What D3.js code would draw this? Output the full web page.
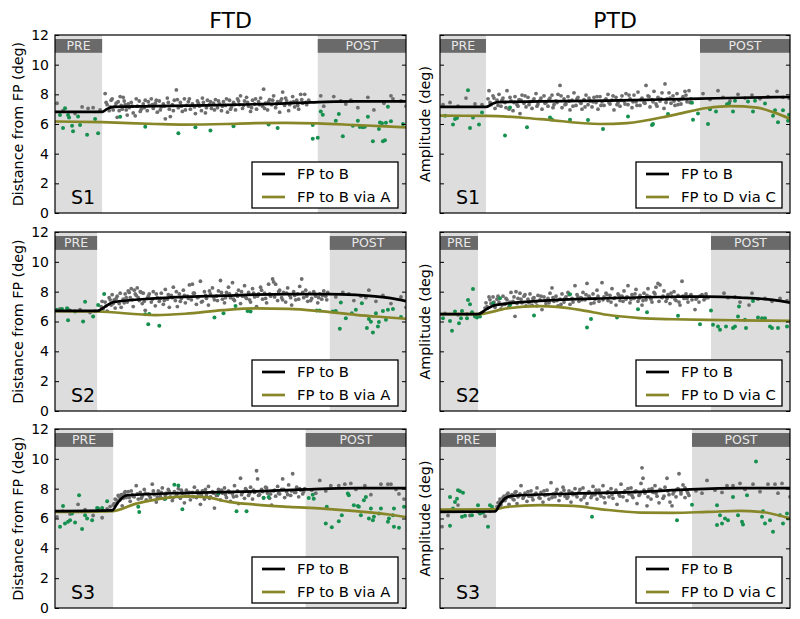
<!DOCTYPE html>
<html><head><meta charset="utf-8">
<script src="https://cdn.jsdelivr.net/npm/d3@7"></script>
<style>body{margin:0;background:#fff} svg{display:block} text{font-family:"DejaVu Sans",sans-serif}</style>
</head><body><svg id="c" width="800" height="619"></svg>
<script>
// ---------------- DATA ----------------
const columnTitles = ["FTD", "PTD"];
const rowLabels = ["S1", "S2", "S3"];
const yLabels = ["Distance from FP (deg)", "Amplitude (deg)"];
const yTicks = [0, 2, 4, 6, 8, 10, 12];
const ftdLegend = ["FP to B", "FP to B via A"];
const ptdLegend = ["FP to B", "FP to D via C"];
const phaseNames = ["PRE", "POST"];
const trialRange = [0, 350];
const ftdPreEnd = [47, 42, 58];
const ftdPostStart = [262, 274, 250];
const ptdPreEnd = [46, 38, 56];
const ptdPostStart = [260, 271, 252];

// fitted curves [trial, value]
const ftdS1Direct = [[0,6.82],[47,6.82],[52,7.02],[58,7.16],[100,7.2],[150,7.26],[200,7.33],[250,7.44],[262,7.48],[300,7.52],[350,7.53]];
const ftdS1Via = [[0,6.17],[47,6.12],[100,6.0],[130,5.96],[170,6.0],[200,6.06],[230,6.08],[262,6.04],[300,5.93],[330,5.84],[350,5.77]];
const ptdS1Direct = [[0,7.15],[46,7.15],[52,7.35],[58,7.48],[100,7.52],[167,7.57],[220,7.65],[260,7.71],[300,7.77],[350,7.82]];
const ptdS1Via = [[0,6.56],[47,6.55],[100,6.33],[160,6.0],[187,6.06],[233,6.6],[267,7.08],[290,7.2],[317,7.1],[333,6.8],[350,6.35]];
const ftdS2Direct = [[0,6.71],[42,6.71],[50,7.0],[58,7.3],[100,7.55],[167,7.73],[233,7.84],[273,7.84],[300,7.78],[333,7.58],[350,7.37]];
const ftdS2Via = [[0,6.7],[42,6.67],[100,6.43],[130,6.52],[167,6.76],[200,6.88],[233,6.85],[267,6.68],[300,6.45],[333,6.27],[350,6.18]];
const ptdS2Direct = [[0,6.49],[38,6.49],[47,6.85],[55,7.1],[100,7.38],[167,7.56],[233,7.66],[267,7.67],[300,7.6],[333,7.45],[350,7.27]];
const ptdS2Via = [[0,6.49],[38,6.49],[67,6.88],[100,7.03],[117,6.98],[140,6.78],[167,6.45],[200,6.23],[233,6.15],[267,6.11],[300,6.08],[350,6.04]];
const ftdS3Direct = [[0,6.5],[57,6.55],[63,7.1],[68,7.45],[72,7.56],[133,7.72],[200,7.82],[250,7.95],[300,8.03],[350,8.03]];
const ftdS3Via = [[0,6.44],[58,6.5],[80,6.98],[100,7.27],[133,7.48],[150,7.43],[173,7.12],[200,6.93],[233,6.78],[267,6.66],[300,6.49],[333,6.27],[350,6.1]];
const ptdS3Direct = [[0,6.44],[55,6.47],[60,6.95],[65,7.35],[72,7.52],[133,7.67],[200,7.78],[250,7.95],[300,8.03],[350,8.03]];
const ptdS3Via = [[0,6.6],[55,6.62],[67,6.78],[100,6.89],[133,6.84],[160,6.63],[200,6.4],[233,6.38],[267,6.44],[300,6.51],[320,6.45],[350,6.0]];

// single trials: "via" trials (green)
const ftdS1Green = [[5,6.6],[8,5.73],[10,7.07],[13,6.6],[14,6.44],[17,5.89],[18,5.51],[23,6.51],[25,5.93],[32,5.27],[40,6.33],[43,5.38],[65,6.49],[90,5.82],[123,5.38],[140,5.78],[155,5.56],[178,5.84],[213,5.96],[222,5.73],[257,5.93],[257,5.0],[262,5.07],[265,6.84],[267,6.62],[280,6.22],[283,6.67],[287,5.18],[297,5.89],[302,6.22],[304,5.8],[307,5.78],[309,5.82],[312,6.49],[317,4.84],[323,5.67],[324,6.1],[326,6.05],[327,4.84],[329,4.9],[330,6.09],[332,7.16],[335,6.18],[347,6.0]];
const ptdS1Green = [[5,6.56],[13,5.96],[15,6.33],[17,6.4],[28,8.27],[30,5.73],[33,6.44],[39,5.96],[42,6.78],[65,5.22],[70,7.11],[87,5.78],[110,6.44],[112,6.31],[130,6.29],[148,6.27],[163,5.67],[188,6.51],[212,5.93],[213,6.0],[228,6.67],[252,7.44],[253,6.29],[258,6.71],[268,6.0],[270,7.0],[276,6.84],[287,7.33],[289,7.4],[293,6.84],[295,7.56],[308,7.51],[313,6.84],[315,7.56],[325,7.38],[333,6.56],[335,6.93],[338,6.11],[343,6.93],[348,6.22],[349,6.62]];
const ftdS2Green = [[2,6.78],[7,6.84],[12,6.89],[13,6.78],[13,6.09],[20,6.67],[28,6.0],[30,7.33],[38,6.33],[43,7.11],[49,7.84],[90,6.49],[93,5.82],[94,6.51],[104,5.71],[159,6.27],[168,6.56],[180,7.04],[192,6.71],[195,6.67],[261,6.73],[264,6.73],[277,6.67],[280,6.71],[284,5.51],[285,7.27],[290,6.22],[296,6.56],[300,6.78],[306,7.22],[311,5.56],[313,6.16],[315,5.98],[317,5.27],[320,6.56],[322,5.67],[323,5.96],[327,6.71],[330,6.11],[332,6.78],[337,6.84],[345,6.3]];
const ptdS2Green = [[3,6.22],[10,6.04],[12,5.38],[15,6.67],[19,5.89],[21,6.22],[22,6.71],[27,6.22],[28,7.44],[30,7.16],[32,6.62],[33,8.18],[35,6.33],[37,6.27],[40,6.33],[53,7.22],[60,7.56],[70,7.11],[94,6.4],[130,7.82],[147,5.6],[151,6.16],[177,6.27],[198,6.82],[207,6.62],[238,6.38],[260,5.82],[271,6.73],[273,5.78],[278,5.67],[280,5.44],[286,5.67],[293,5.56],[295,5.67],[298,6.33],[299,7.0],[305,6.11],[306,5.56],[313,7.38],[318,6.27],[322,6.22],[325,6.22],[330,5.67],[332,5.56],[338,5.56],[347,5.67]];
const ftdS3Green = [[5,5.44],[8,6.84],[10,5.67],[13,5.78],[15,5.89],[17,6.33],[20,5.73],[24,7.56],[27,5.29],[30,6.22],[32,6.0],[37,5.89],[42,6.71],[43,6.67],[47,6.71],[52,7.16],[83,6.78],[84,6.44],[110,7.33],[119,8.27],[123,8.22],[127,6.62],[163,7.67],[181,6.49],[191,6.49],[208,7.38],[213,7.44],[253,7.38],[257,7.6],[258,7.33],[270,5.67],[271,6.78],[276,5.42],[283,5.82],[286,6.22],[292,7.67],[293,7.56],[298,6.89],[302,6.84],[303,6.78],[305,6.22],[308,7.22],[310,7.44],[313,6.0],[315,6.67],[317,5.89],[318,6.11],[323,6.33],[325,6.67],[332,5.78],[333,6.0],[337,6.22],[338,5.44],[338,6.67],[343,5.38],[348,6.78]];
const ptdS3Green = [[10,7.44],[10,5.51],[13,6.67],[15,7.11],[17,7.33],[18,7.89],[20,7.82],[22,6.11],[23,7.73],[25,6.18],[32,6.22],[38,6.89],[40,6.33],[43,6.38],[48,5.44],[50,6.89],[52,6.78],[152,6.11],[237,5.89],[252,6.93],[277,6.89],[277,5.56],[280,6.22],[282,5.67],[285,6.0],[288,5.89],[293,7.44],[298,6.22],[302,5.78],[303,5.6],[307,7.56],[316,9.82],[322,6.11],[323,6.49],[325,5.67],[330,5.89],[333,5.11],[340,6.22],[343,5.67],[347,6.33],[348,6.0]];

// single trials: direct trials (gray)
const ftdS1Gray = [[2,7.4],[8,6.9],[20,6.7],[27,7.15],[33,7.05],[38,7.1],[45,6.95],[50,8.05],[52,7.3],[54,6.9],[56,7.6],[58,6.95],[60,7.2],[62,6.45],[63,7.5],[65,7.85],[67,7.0],[68,7.8],[70,7.3],[72,6.6],[74,7.1],[76,7.45],[78,6.75],[80,6.55],[82,7.2],[84,7.55],[86,7.0],[88,7.35],[90,7.6],[92,6.9],[94,7.25],[96,7.7],[98,7.05],[100,7.4],[102,6.8],[104,7.55],[106,7.15],[108,7.35],[110,6.35],[112,7.75],[114,7.0],[115,6.5],[117,7.3],[119,7.6],[121,8.3],[123,7.1],[125,7.45],[127,6.85],[129,7.7],[131,7.25],[133,7.5],[135,7.0],[137,7.35],[140,6.7],[142,7.55],[144,7.2],[146,6.9],[148,7.45],[150,6.75],[152,7.6],[154,7.3],[156,7.05],[158,7.4],[160,7.65],[162,7.1],[164,7.35],[166,6.9],[168,7.5],[170,7.25],[172,6.8],[174,7.6],[176,7.15],[178,7.45],[180,6.95],[182,7.7],[184,7.3],[185,7.9],[187,7.05],[189,7.55],[191,7.8],[193,7.2],[195,6.85],[197,7.6],[199,7.35],[201,7.0],[203,7.5],[205,7.75],[207,7.2],[208,8.35],[210,7.4],[212,6.95],[214,7.65],[216,7.3],[218,7.9],[220,7.1],[222,7.5],[224,6.8],[226,7.7],[227,8.15],[229,7.25],[231,7.55],[233,6.9],[235,7.45],[237,7.85],[239,7.15],[241,7.6],[243,7.0],[245,8.0],[247,7.4],[249,8.0],[251,7.3],[253,7.6],[265,7.9],[268,7.2],[278,7.85],[285,7.55],[290,7.35],[295,7.6],[302,7.1],[312,7.8],[318,6.95],[328,7.4],[335,7.9],[337,7.7],[345,7.55],[350,7.2]];
const ftdS1GrayB = [[51,7.45],[55,7.15],[57,7.7],[61,7.4],[64,6.9],[66,7.25],[69,7.55],[71,6.95],[73,7.35],[77,7.2],[81,7.7],[85,6.85],[89,7.1],[93,7.5],[97,7.3],[101,7.6],[105,6.95],[109,7.2],[113,7.45],[118,6.9],[122,7.65],[126,7.2],[130,6.95],[134,7.7],[139,7.15],[143,7.4],[147,7.75],[151,7.1],[155,7.5],[159,6.95],[163,7.55],[167,7.2],[171,7.7],[175,7.0],[179,7.3],[183,7.55],[188,7.25],[192,7.45],[196,7.1],[200,7.7],[204,7.3],[209,7.05],[213,7.5],[217,7.6],[221,7.35],[225,7.55],[230,7.75],[234,7.3],[238,7.5],[242,7.25],[246,7.65],[250,7.45]];
const ptdS1Gray = [[3,7.3],[10,7.45],[18,7.2],[26,7.75],[35,7.35],[42,7.3],[48,7.7],[49,8.25],[51,7.3],[53,7.9],[55,7.05],[57,7.6],[59,8.0],[61,7.2],[63,7.75],[65,7.45],[67,8.25],[69,7.0],[71,7.55],[73,6.9],[75,7.85],[77,7.3],[79,7.65],[80,6.7],[82,7.95],[84,7.4],[86,7.15],[88,7.8],[90,7.5],[92,7.05],[94,7.7],[96,8.05],[98,7.35],[100,7.6],[102,7.0],[104,7.9],[106,7.45],[108,7.2],[110,7.75],[112,7.95],[114,7.3],[116,7.55],[118,8.0],[120,8.6],[122,7.1],[124,7.7],[126,7.35],[128,7.85],[130,6.95],[132,7.6],[134,8.1],[136,7.25],[138,7.8],[140,7.5],[142,7.0],[144,7.65],[146,7.95],[148,7.3],[150,7.55],[152,7.15],[154,7.8],[156,7.45],[158,7.0],[160,7.85],[162,7.5],[164,7.25],[166,7.7],[168,8.0],[170,7.35],[172,7.6],[174,6.95],[176,7.8],[178,7.45],[180,7.2],[182,7.9],[184,7.55],[186,8.05],[188,7.3],[190,7.7],[192,7.1],[194,7.95],[196,7.5],[198,8.15],[200,7.25],[202,7.75],[204,7.45],[206,8.6],[208,7.9],[210,7.15],[212,7.65],[214,8.2],[216,7.35],[218,7.8],[220,7.55],[222,8.1],[224,7.05],[225,8.7],[227,7.7],[229,8.1],[231,7.4],[233,7.9],[235,7.25],[237,8.05],[239,7.6],[241,7.35],[243,7.85],[245,8.2],[247,7.5],[249,8.25],[251,7.7],[263,8.05],[270,7.65],[278,8.25],[283,7.8],[290,7.55],[298,8.0],[305,7.75],[312,7.95],[320,7.7],[328,7.85],[337,8.2],[343,7.8],[349,7.75]];
const ptdS1GrayB = [[50,7.45],[54,7.75],[58,7.25],[62,7.6],[66,7.1],[70,7.8],[74,7.45],[78,7.2],[81,7.6],[85,7.9],[89,7.3],[93,7.55],[97,7.2],[101,7.75],[105,7.4],[109,7.65],[113,7.1],[117,7.45],[121,7.9],[125,7.3],[129,7.55],[133,7.2],[137,7.7],[141,7.4],[145,7.15],[149,7.75],[153,7.5],[157,7.85],[161,7.25],[165,7.6],[169,7.45],[173,7.9],[177,7.3],[181,7.6],[185,7.35],[189,7.95],[193,7.5],[197,7.25],[201,7.65],[205,7.4],[209,7.85],[213,7.5],[217,7.2],[221,7.7],[226,7.45],[230,7.75],[234,7.55],[238,7.3],[242,7.7],[246,7.95],[250,7.45]];
const ftdS2Gray = [[5,6.85],[15,6.75],[25,6.8],[35,6.6],[40,6.7],[46,7.0],[48,6.85],[50,7.3],[52,6.7],[54,7.6],[56,7.1],[57,7.8],[59,7.45],[60,6.9],[62,7.7],[64,7.2],[66,6.95],[68,7.5],[70,7.85],[72,7.3],[73,8.05],[75,7.6],[76,8.2],[78,7.0],[79,8.1],[81,7.75],[82,8.25],[84,7.4],[85,8.0],[87,7.2],[88,7.9],[90,6.75],[92,7.55],[94,7.85],[96,7.3],[98,8.0],[100,7.05],[102,7.6],[104,7.35],[106,7.9],[108,7.15],[110,8.15],[112,7.5],[114,6.95],[116,7.75],[118,8.3],[120,7.4],[122,7.0],[124,7.85],[126,7.55],[128,8.1],[130,7.25],[132,7.7],[134,8.45],[136,7.45],[137,8.5],[139,7.9],[141,7.15],[143,7.65],[145,8.7],[147,7.35],[149,8.0],[151,7.55],[153,7.1],[155,7.85],[157,8.25],[159,7.45],[161,7.7],[163,8.05],[165,8.75],[167,7.5],[169,7.25],[171,7.95],[173,8.3],[175,7.6],[177,8.6],[179,7.4],[181,7.85],[183,8.1],[185,7.2],[187,7.7],[189,8.4],[191,7.55],[193,7.95],[195,7.3],[197,8.2],[199,7.65],[201,7.0],[203,7.85],[205,8.3],[207,7.5],[209,7.9],[211,7.25],[213,8.5],[215,7.7],[217,8.85],[218,8.65],[220,8.5],[222,7.4],[224,8.1],[226,7.6],[228,7.95],[230,7.3],[232,8.25],[234,7.75],[236,7.1],[238,8.0],[240,7.45],[242,7.85],[244,8.35],[246,8.85],[248,7.6],[250,8.1],[252,7.35],[254,7.9],[256,7.55],[258,8.0],[260,7.7],[262,7.25],[264,7.85],[266,7.5],[268,8.05],[270,7.7],[272,7.95],[280,7.65],[287,7.95],[293,7.85],[298,7.4],[305,7.7],[310,7.6],[313,8.1],[320,7.35],[327,7.75],[335,7.2],[345,7.65],[350,6.95]];
const ftdS2GrayB = [[47,7.35],[51,7.05],[55,7.45],[58,7.2],[61,7.55],[65,7.9],[69,7.25],[71,7.6],[74,7.95],[77,7.45],[80,7.85],[83,7.6],[86,7.95],[89,7.35],[93,7.7],[97,7.5],[101,7.85],[105,7.55],[109,7.4],[113,7.8],[117,7.6],[121,8.0],[125,7.35],[129,7.75],[133,7.55],[138,7.9],[142,7.6],[146,7.3],[150,7.75],[154,8.05],[158,7.65],[162,7.4],[166,7.95],[170,7.6],[174,7.85],[178,7.5],[182,7.7],[186,8.0],[190,7.65],[194,7.45],[198,7.9],[202,7.7],[206,8.1],[210,7.55],[214,7.85],[219,7.65],[223,8.0],[227,7.45],[231,7.9],[235,7.6],[239,7.75],[243,7.5],[247,7.95],[251,7.7],[255,7.4],[259,7.85],[263,7.6],[267,7.75],[271,7.45]];
const ptdS2Gray = [[5,6.55],[18,6.45],[27,6.5],[35,6.4],[42,6.6],[45,6.9],[47,7.0],[49,7.65],[51,7.2],[53,7.65],[55,6.95],[57,7.5],[59,7.3],[61,6.85],[63,7.7],[65,7.15],[67,7.45],[69,7.0],[71,7.95],[73,7.35],[75,6.35],[76,8.0],[78,7.55],[80,7.9],[82,7.25],[84,7.7],[86,7.05],[88,7.5],[90,7.85],[92,7.1],[94,7.6],[96,7.3],[98,7.75],[100,7.45],[102,6.8],[104,7.65],[106,7.2],[108,7.55],[110,7.9],[112,8.25],[114,7.35],[116,7.7],[118,7.05],[120,7.5],[122,7.85],[124,7.3],[126,7.65],[128,7.95],[130,7.15],[132,7.55],[135,8.4],[137,7.8],[139,7.35],[141,7.6],[143,7.95],[145,7.45],[147,8.55],[149,7.7],[151,7.2],[153,7.85],[155,7.5],[157,8.1],[159,7.35],[162,8.6],[164,7.65],[166,7.9],[168,7.4],[170,7.75],[172,8.2],[174,7.55],[176,7.1],[178,7.85],[180,7.4],[182,7.7],[184,8.05],[186,7.5],[188,8.4],[190,7.25],[192,7.8],[194,7.55],[196,8.15],[198,7.35],[200,7.75],[202,7.1],[204,7.9],[206,7.45],[208,8.2],[210,7.65],[212,7.3],[214,7.95],[216,8.3],[218,8.55],[220,8.45],[222,7.6],[224,8.05],[226,7.35],[228,7.8],[230,7.2],[232,7.65],[234,8.0],[236,7.4],[238,7.75],[240,7.1],[242,8.7],[244,7.55],[246,7.85],[248,7.3],[250,7.7],[252,7.45],[255,6.8],[257,7.6],[259,7.3],[262,7.8],[264,7.45],[266,7.85],[268,7.6],[284,7.9],[288,7.6],[295,7.65],[300,7.3],[309,7.1],[312,7.9],[318,7.5],[325,7.55],[332,7.35],[340,7.55],[347,7.4]];
const ptdS2GrayB = [[46,7.25],[50,7.45],[54,7.3],[58,7.7],[62,7.1],[66,7.55],[70,7.3],[74,7.65],[77,7.2],[81,7.5],[85,7.8],[89,7.25],[93,7.55],[97,7.05],[101,7.7],[105,7.4],[109,7.25],[113,7.6],[117,7.4],[121,7.15],[125,7.55],[129,7.8],[133,7.3],[138,7.65],[142,7.45],[146,7.8],[150,7.55],[154,7.25],[158,7.7],[163,7.45],[167,7.8],[171,7.3],[175,7.6],[179,7.75],[183,7.35],[187,7.65],[191,7.5],[195,7.85],[199,7.55],[203,7.4],[207,7.75],[211,7.5],[215,7.85],[219,7.35],[223,7.7],[227,7.55],[231,7.9],[235,7.5],[239,7.3],[243,7.7],[247,7.55],[251,7.8],[256,7.5],[260,7.7],[265,7.55]];
const ftdS3Gray = [[2,6.1],[8,6.5],[15,6.3],[23,6.95],[30,6.6],[38,6.2],[47,6.05],[52,6.65],[55,6.8],[58,6.9],[60,7.3],[62,7.05],[63,7.55],[65,7.25],[67,6.85],[69,7.7],[71,7.4],[73,7.8],[75,7.15],[77,7.6],[79,7.45],[81,8.2],[83,7.3],[85,7.75],[87,7.5],[89,7.95],[91,7.25],[93,7.65],[95,7.4],[97,8.3],[99,7.6],[101,7.1],[103,7.85],[105,7.5],[107,8.05],[109,7.3],[111,7.7],[113,7.95],[115,7.45],[117,7.2],[119,7.8],[121,7.55],[123,8.0],[125,7.35],[127,7.7],[129,7.05],[131,7.9],[133,7.5],[135,7.25],[137,7.75],[139,8.1],[141,7.4],[143,7.65],[145,6.95],[147,7.85],[149,7.3],[151,7.6],[153,8.15],[155,7.45],[157,7.8],[159,6.7],[161,7.55],[163,7.95],[165,7.25],[167,7.7],[169,8.05],[171,7.4],[173,7.85],[175,7.15],[177,7.65],[179,8.2],[181,7.5],[183,7.0],[185,8.7],[187,7.75],[189,7.35],[191,7.9],[193,7.55],[195,8.1],[197,7.3],[199,7.75],[201,9.2],[202,8.65],[204,7.6],[206,7.95],[208,7.4],[210,8.1],[212,7.7],[214,7.35],[216,6.9],[218,7.85],[220,7.5],[222,8.15],[224,7.65],[226,7.95],[227,8.65],[229,7.4],[231,7.8],[233,8.25],[235,7.55],[237,9.0],[239,7.75],[241,8.1],[243,7.45],[245,7.9],[247,7.65],[249,8.0],[256,7.9],[260,7.7],[264,8.55],[270,7.85],[275,8.2],[283,8.2],[289,8.3],[295,8.35],[300,7.95],[309,8.2],[315,7.6],[325,8.3],[332,8.3],[335,8.3],[340,7.95],[343,7.65],[348,7.3]];
const ftdS3GrayB = [[59,7.0],[61,7.25],[64,7.45],[66,7.6],[68,7.35],[70,7.8],[72,7.55],[74,7.4],[76,7.85],[78,7.5],[82,7.65],[86,7.35],[90,7.7],[94,7.55],[98,7.85],[102,7.45],[106,7.75],[110,7.55],[114,7.8],[118,7.4],[122,7.7],[126,7.9],[130,7.5],[134,7.75],[138,7.45],[142,7.85],[146,7.6],[150,7.95],[154,7.35],[158,7.7],[162,7.55],[166,7.9],[170,7.6],[174,7.75],[178,7.45],[182,7.85],[186,7.6],[190,8.0],[194,7.7],[198,7.9],[203,7.55],[207,7.8],[211,8.05],[215,7.65],[219,7.9],[223,7.7],[228,7.95],[232,7.6],[236,7.85],[240,7.75],[244,8.0],[248,7.8]];
const ptdS3Gray = [[2,5.45],[8,6.2],[18,6.9],[22,6.5],[30,6.2],[38,6.45],[45,6.15],[50,6.5],[54,6.6],[57,6.8],[59,7.1],[61,6.9],[63,7.4],[65,7.2],[67,7.6],[69,6.95],[71,7.45],[73,7.3],[75,7.75],[77,7.0],[79,7.55],[81,8.2],[83,7.35],[85,7.7],[87,7.15],[89,7.5],[91,7.85],[93,7.25],[95,7.6],[97,8.05],[99,7.4],[101,7.75],[103,7.1],[105,7.55],[107,7.9],[109,7.3],[111,8.4],[113,7.65],[115,7.45],[117,7.95],[119,7.2],[121,7.7],[123,8.1],[125,7.5],[127,7.35],[129,7.85],[131,7.1],[133,7.6],[135,8.0],[137,7.45],[139,7.75],[141,7.25],[143,8.05],[145,7.55],[147,7.0],[149,7.8],[151,7.4],[153,8.15],[155,7.6],[157,7.3],[159,7.9],[161,7.5],[163,8.2],[165,7.05],[167,7.7],[169,7.45],[171,8.0],[173,7.35],[175,7.75],[177,6.95],[179,7.6],[181,8.3],[183,7.45],[185,7.85],[187,7.2],[189,7.65],[191,8.05],[193,7.4],[195,7.8],[197,7.0],[199,7.55],[201,8.35],[202,9.4],[203,8.7],[205,7.7],[207,6.85],[209,7.95],[211,7.3],[213,7.75],[215,8.2],[217,7.5],[219,7.05],[221,7.9],[223,7.35],[225,8.1],[227,8.7],[229,7.6],[230,7.1],[232,6.85],[234,7.8],[236,7.45],[238,8.0],[239,9.0],[241,7.65],[243,8.25],[245,7.4],[247,7.85],[249,7.55],[256,7.85],[262,7.7],[267,8.55],[275,7.9],[282,7.75],[287,8.2],[293,8.2],[300,8.35],[305,7.95],[313,8.3],[320,7.8],[328,8.3],[335,8.3],[338,7.7],[342,8.35],[350,7.45]];
const ptdS3GrayB = [[58,7.05],[60,7.3],[62,7.15],[64,7.5],[66,7.35],[68,7.7],[70,7.45],[72,7.6],[74,7.25],[76,7.8],[78,7.45],[80,7.65],[84,7.5],[88,7.8],[92,7.45],[96,7.7],[100,7.35],[104,7.85],[108,7.6],[112,7.4],[116,7.75],[120,7.55],[124,7.9],[128,7.45],[132,7.75],[136,7.6],[140,7.95],[144,7.4],[148,7.7],[152,7.55],[156,7.9],[160,7.65],[164,7.4],[168,7.8],[172,7.6],[176,7.9],[180,7.5],[184,7.75],[188,8.0],[192,7.55],[196,7.85],[200,7.65],[204,7.9],[208,7.45],[212,8.0],[216,7.7],[220,7.95],[224,7.5],[228,7.85],[233,7.65],[237,7.95],[241,7.8],[245,8.05],[248,7.7]];

// ---------------- LAYOUT ----------------
const colX = [[55, 406], [440, 790]];
const rowY = [[35, 213], [232, 411], [429, 608]];
const C = { shade: "#dddddd", bar: "#6a6a6a", barText: "#e8e8e8", gray: "#6e6e6e", green: "#16904f", direct: "#000000", via: "#878729" };

const panels = [
  {c:0, r:0, gray:ftdS1Gray.concat(ftdS1GrayB), green:ftdS1Green, direct:ftdS1Direct, via:ftdS1Via, pre:ftdPreEnd[0], post:ftdPostStart[0], legend:ftdLegend},
  {c:0, r:1, gray:ftdS2Gray.concat(ftdS2GrayB), green:ftdS2Green, direct:ftdS2Direct, via:ftdS2Via, pre:ftdPreEnd[1], post:ftdPostStart[1], legend:ftdLegend},
  {c:0, r:2, gray:ftdS3Gray.concat(ftdS3GrayB), green:ftdS3Green, direct:ftdS3Direct, via:ftdS3Via, pre:ftdPreEnd[2], post:ftdPostStart[2], legend:ftdLegend},
  {c:1, r:0, gray:ptdS1Gray.concat(ptdS1GrayB), green:ptdS1Green, direct:ptdS1Direct, via:ptdS1Via, pre:ptdPreEnd[0], post:ptdPostStart[0], legend:ptdLegend},
  {c:1, r:1, gray:ptdS2Gray.concat(ptdS2GrayB), green:ptdS2Green, direct:ptdS2Direct, via:ptdS2Via, pre:ptdPreEnd[1], post:ptdPostStart[1], legend:ptdLegend},
  {c:1, r:2, gray:ptdS3Gray.concat(ptdS3GrayB), green:ptdS3Green, direct:ptdS3Direct, via:ptdS3Via, pre:ptdPreEnd[2], post:ptdPostStart[2], legend:ptdLegend}
];

const svg = d3.select("#c");

// column titles
columnTitles.forEach((t, i) => {
  svg.append("text").attr("x", (colX[i][0] + colX[i][1]) / 2).attr("y", 28)
    .attr("text-anchor", "middle").attr("font-size", 22).attr("fill", "#000").text(t);
});

panels.forEach((p, idx) => {
  const [x0, x1] = colX[p.c];
  const [y0, y1] = rowY[p.r];
  const x = d3.scaleLinear().domain(trialRange).range([x0, x1]);
  const y = d3.scaleLinear().domain([0, 12]).range([y1, y0]);
  const g = svg.append("g");
  const clipId = "clip" + idx;
  g.append("clipPath").attr("id", clipId).append("rect")
    .attr("x", x0).attr("y", y0).attr("width", x1 - x0).attr("height", y1 - y0);
  const inner = g.append("g").attr("clip-path", `url(#${clipId})`);

  // phase shading
  const phases = [[trialRange[0], p.pre], [p.post, trialRange[1]]];
  phases.forEach((ph, k) => {
    inner.append("rect").attr("x", x(ph[0])).attr("y", y(12)).attr("width", x(ph[1]) - x(ph[0]))
      .attr("height", y(0) - y(12)).attr("fill", C.shade);
    inner.append("rect").attr("x", x(ph[0])).attr("y", y(11.73)).attr("width", x(ph[1]) - x(ph[0]))
      .attr("height", y(10.8) - y(11.73)).attr("fill", C.bar);
    inner.append("text").attr("x", (x(ph[0]) + x(ph[1])) / 2).attr("y", (y(11.73) + y(10.8)) / 2 + 4.5)
      .attr("text-anchor", "middle").attr("font-size", 12.5).attr("fill", C.barText).text(phaseNames[k]);
  });

  // scatter points
  inner.append("g").selectAll("circle").data(p.gray).join("circle")
    .attr("cx", d => x(d[0])).attr("cy", d => y(d[1])).attr("r", 1.9).attr("fill", C.gray);
  inner.append("g").selectAll("circle").data(p.green).join("circle")
    .attr("cx", d => x(d[0])).attr("cy", d => y(d[1])).attr("r", 2.0).attr("fill", C.green);

  // fitted lines
  const line = d3.line().x(d => x(d[0])).y(d => y(d[1])).curve(d3.curveMonotoneX);
  inner.append("path").attr("d", line(p.via)).attr("fill", "none").attr("stroke", C.via).attr("stroke-width", 2.7);
  inner.append("path").attr("d", line(p.direct)).attr("fill", "none").attr("stroke", C.direct).attr("stroke-width", 2.7);

  // axes (inward ticks both sides)
  const axL = d3.axisLeft(y).tickValues(yTicks).tickSizeInner(-4).tickSizeOuter(0).tickPadding(6);
  if (p.c === 1) axL.tickFormat("");
  const gl = g.append("g").attr("transform", `translate(${x0},0)`).call(axL);
  gl.select(".domain").remove();
  gl.selectAll("text").attr("font-size", 14).attr("font-family", "DejaVu Sans").attr("fill", "#000");
  const axR = d3.axisRight(y).tickValues(yTicks).tickSizeInner(-4).tickSizeOuter(0).tickFormat("");
  const gr = g.append("g").attr("transform", `translate(${x1},0)`).call(axR);
  gr.select(".domain").remove();

  // frame
  g.append("rect").attr("x", x0).attr("y", y0).attr("width", x1 - x0).attr("height", y1 - y0)
    .attr("fill", "none").attr("stroke", "#000").attr("stroke-width", 1.2);

  // subject label
  g.append("text").attr("x", x0 + 16).attr("y", y1 - 9).attr("font-size", 19).attr("fill", "#000").text(rowLabels[p.r]);

  // y label
  const lx = p.c === 0 ? 18 : 425;
  const ly = (y0 + y1) / 2;
  g.append("text").attr("transform", `translate(${lx},${ly}) rotate(-90)`).attr("text-anchor", "middle")
    .attr("dominant-baseline", "central").attr("font-size", 14.3).attr("fill", "#000").text(yLabels[p.c]);

  // legend
  const lw = 146, lh = 46;
  const bx = x1 - 8 - lw, by = y1 - 5 - lh;
  const lg = g.append("g").attr("transform", `translate(${bx},${by})`);
  lg.append("rect").attr("width", lw).attr("height", lh).attr("fill", "#fff").attr("stroke", "#000").attr("stroke-width", 1.3);
  [C.direct, C.via].forEach((col, k) => {
    const cy = 12 + k * 23;
    lg.append("line").attr("x1", 10).attr("x2", 33).attr("y1", cy).attr("y2", cy).attr("stroke", col).attr("stroke-width", 2.7);
    lg.append("text").attr("x", 45).attr("y", cy + 5).attr("font-size", 14.8).attr("fill", "#000").text(p.legend[k]);
  });
});
</script>
</body></html>
